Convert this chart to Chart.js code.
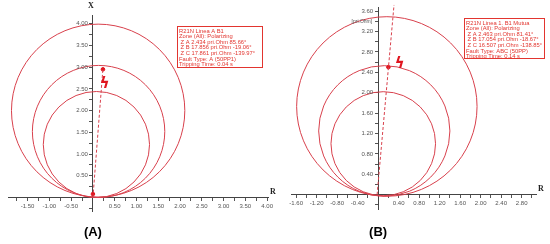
<!DOCTYPE html>
<html>
<head>
<meta charset="utf-8">
<script src="https://cdn.jsdelivr.net/npm/chart.js@4.4.1/dist/chart.umd.min.js"></script>
<style>
body { margin: 0; background: #fff; width: 550px; height: 244px; overflow: hidden; position: relative; }
canvas { position: absolute; top: 0; }
#chartA { left: 0; }
#chartB { left: 275px; }
</style>
</head>
<body>
<canvas id="chartA" width="278" height="244"></canvas>
<canvas id="chartB" width="275" height="244"></canvas>
<script>
// Panel A - R21N Linea A B1 (mho zones, pri.Ohm)
var centerRA = [0.12, 0.13, 0.08];
var centerXA = [2.00, 1.52, 1.22];
var radiusA = [1.99, 1.52, 1.22];
var faultLineRA = [0, 0.23];
var faultLineXA = [0, 2.97];
var faultDotRA = [0.23, 0];
var faultDotXA = [2.95, 0.08];
var faultMarkA = [0.27, 2.62];
var infoA = [
    'R21N Linea A B1',
    'Zone (All): Polarizing',
    ' Z A 2.434 pri.Ohm 85.66\u00b0',
    ' Z B 17.856 pri.Ohm -19.06\u00b0',
    ' Z C 17.861 pri.Ohm -139.97\u00b0',
    'Fault Type: A (50PP1)',
    'Tripping Time: 0.04 s'
];

// Panel B - R21N Linea 1. B1 Mutua
var centerRB = [0.17, 0.12, 0.10];
var centerXB = [1.73, 1.25, 1.00];
var radiusB = [1.76, 1.28, 1.02];
var faultLineRB = [-0.02, 0.31];
var faultLineXB = [0, 3.72];
var faultDotRB = [0.20];
var faultDotXB = [2.50];
var faultMarkB = [0.42, 2.56];
var infoB = [
    'R21N Linea 1. B1 Mutua',
    'Zone (All): Polarizing',
    ' Z A 2.463 pri.Ohm 81.41\u00b0',
    ' Z B 17.054 pri.Ohm -18.67\u00b0',
    ' Z C 16.507 pri.Ohm -138.85\u00b0',
    'Fault Type: ABC (50PP)',
    'Tripping Time: 0.14 s'
];

var red = '#d8404c';
var textRed = '#e2352f';

function points(rs, xs) {
    return rs.map(function (r, i) { return {x: r, y: xs[i]}; });
}

function labelFor(value, step) {
    if (Math.abs(value) < 1e-9) return '';
    var k = value / step;
    return Math.abs(k - Math.round(k)) < 1e-6 ? value.toFixed(2) : '';
}

function axis(min, max, step, labelStep, pos, horizontal) {
    return {
        type: 'linear',
        min: min,
        max: max,
        position: pos,
        grid: { drawOnChartArea: false, drawTicks: true, tickLength: 3, color: '#555' },
        border: { display: true, color: '#444', width: 1 },
        ticks: {
            stepSize: step,
            includeBounds: false,
            autoSkip: false,
            maxRotation: 0,
            padding: 2,
            color: '#555',
            font: { family: 'Liberation Sans', size: 6 },
            // vertical axis labels are drawn by the overlay, left of the axis line
            callback: function (v) { return horizontal ? labelFor(v, labelStep) : ''; }
        },
        afterFit: function (s) {
            if (horizontal) s.height = 0; else s.width = 0;
            s.paddingLeft = 0; s.paddingRight = 0; s.paddingTop = 0; s.paddingBottom = 0;
        }
    };
}

function overlay(p) {
    return {
        id: 'overlay' + p.name,
        beforeDatasetsDraw: function (chart) {
            var ctx = chart.ctx, xs = chart.scales.x, ys = chart.scales.y;
            ctx.save();
            ctx.strokeStyle = red;
            ctx.lineWidth = 1;
            p.radius.forEach(function (r, i) {
                var cx = xs.getPixelForValue(p.cr[i]);
                var cy = ys.getPixelForValue(p.cx[i]);
                var rx = xs.getPixelForValue(p.cr[i] + r) - cx;
                var ry = cy - ys.getPixelForValue(p.cx[i] + r);
                ctx.beginPath();
                ctx.ellipse(cx, cy, rx, ry, 0, 0, Math.PI * 2);
                ctx.stroke();
            });
            ctx.restore();
        },
        afterDraw: function (chart) {
            var ctx = chart.ctx, xs = chart.scales.x, ys = chart.scales.y, a = chart.chartArea;
            var x0 = xs.getPixelForValue(0), y0 = ys.getPixelForValue(0);
            ctx.save();
            // y tick labels
            ctx.fillStyle = '#555';
            ctx.font = '6px "Liberation Sans"';
            ctx.textAlign = 'right';
            ctx.textBaseline = 'middle';
            ys.ticks.forEach(function (t) {
                var s = labelFor(t.value, p.yLabel);
                if (s) ctx.fillText(s, x0 - 5, ys.getPixelForValue(t.value));
            });
            // fault marker
            ctx.fillStyle = '#e0151f';
            ctx.font = 'bold 15px "DejaVu Sans"';
            ctx.textAlign = 'center';
            ctx.fillText('\u03df', xs.getPixelForValue(p.mark[0]), ys.getPixelForValue(p.mark[1]));
            // axis letters
            ctx.fillStyle = '#222';
            ctx.font = 'bold 8px "Liberation Serif"';
            ctx.fillText('X', x0 + p.letterDx, a.top - 9);
            ctx.fillText('R', a.right + 5, y0 - 6);
            if (p.unit) {
                ctx.font = '5px "Liberation Sans"';
                ctx.fillStyle = '#555';
                ctx.textAlign = 'right';
                ctx.fillText(p.unit, x0 - 6, ys.getPixelForValue(3.4));
            }
            // panel caption
            ctx.fillStyle = '#000';
            ctx.font = 'bold 13px "Liberation Sans"';
            ctx.textAlign = 'center';
            ctx.fillText(p.caption, x0, 232);
            // relay info box
            var b = p.box;
            ctx.strokeStyle = textRed;
            ctx.strokeRect(b.x + 0.5, b.y + 0.5, b.w, b.h);
            ctx.fillStyle = textRed;
            ctx.font = '5.8px "Liberation Sans"';
            ctx.textAlign = 'left';
            ctx.textBaseline = 'top';
            p.info.forEach(function (t, i) {
                ctx.fillText(t, b.x + 2, b.y + 2 + i * 5.6);
            });
            ctx.restore();
        }
    };
}

function makeChart(id, p) {
    return new Chart(document.getElementById(id), {
        type: 'scatter',
        data: {
            datasets: [{
                data: points(p.lineR, p.lineX),
                showLine: true,
                borderColor: red,
                borderWidth: 1,
                borderDash: [3, 2],
                pointRadius: 0,
                clip: false
            }, {
                data: points(p.dotR, p.dotX),
                pointRadius: 1.8,
                backgroundColor: '#e0151f',
                borderColor: '#e0151f'
            }]
        },
        options: {
            responsive: false,
            animation: false,
            devicePixelRatio: 1,
            layout: { padding: p.padding },
            plugins: { legend: { display: false }, tooltip: { enabled: false } },
            scales: {
                x: axis(p.xMin, p.xMax, p.xStep, p.xLabel, {y: 0}, true),
                y: axis(p.yMin, p.yMax, p.yStep, p.yLabel, {x: 0}, false)
            }
        },
        plugins: [overlay(p)]
    });
}

makeChart('chartA', {
    name: 'A', caption: '(A)', letterDx: -2,
    cr: centerRA, cx: centerXA, radius: radiusA,
    lineR: faultLineRA, lineX: faultLineXA,
    dotR: faultDotRA, dotX: faultDotXA, mark: faultMarkA,
    info: infoA, box: {x: 177, y: 26, w: 85, h: 41},
    padding: {left: 8, right: 10, top: 15, bottom: 33},
    xMin: -1.95, xMax: 4.02, xStep: 0.25, xLabel: 0.5,
    yMin: -0.31, yMax: 4.2, yStep: 0.25, yLabel: 0.5
});

makeChart('chartB', {
    name: 'B', caption: '(B)', unit: '[pri.Ohm]', letterDx: 7,
    cr: centerRB, cx: centerXB, radius: radiusB,
    lineR: faultLineRB, lineX: faultLineXB,
    dotR: faultDotRB, dotX: faultDotXB, mark: faultMarkB,
    info: infoB, box: {x: 189, y: 18, w: 80, h: 40},
    padding: {left: 16, right: 14, top: 7, bottom: 35},
    xMin: -1.7, xMax: 3.08, xStep: 0.2, xLabel: 0.4,
    yMin: -0.28, yMax: 3.68, yStep: 0.2, yLabel: 0.4
});
</script>
</body>
</html>
